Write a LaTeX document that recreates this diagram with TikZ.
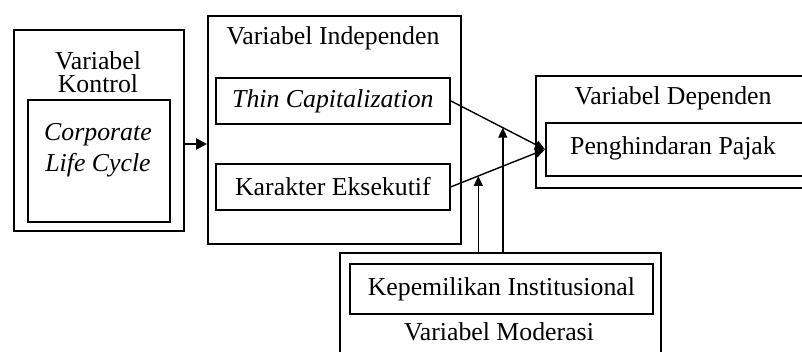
\documentclass[tikz,border=0pt]{standalone}
\usepackage{fontspec}
\setmainfont{Liberation Serif}
\usetikzlibrary{arrows.meta,calc}
\begin{document}
\begin{tikzpicture}[x=0.5pt,y=-0.5pt,
 box/.style={draw,line width=0.9pt,inner sep=0pt,anchor=north west},
 txt/.style={font=\fontsize{12.9}{15}\selectfont,inner sep=0pt},
 arr/.style={line width=0.7pt,-{Triangle[length=5pt,width=4.5pt]}}]
\useasboundingbox (0,0) rectangle (802,352);
% boxes
\node[box,minimum width=85pt,minimum height=100.5pt] (kout) at (12.7,29) {};
\node[box,minimum width=71pt,minimum height=61pt] (kin) at (27,99) {};
\node[box,minimum width=126.5pt,minimum height=114pt] (ind) at (207,15) {};
\node[box,minimum width=117pt,minimum height=23pt] (thin) at (215,77) {};
\node[box,minimum width=117pt,minimum height=23pt] (kar) at (215,163) {};
\node[box,minimum width=142.5pt,minimum height=56pt] (dep) at (535,75) {};
\node[box,minimum width=137.5pt,minimum height=26.5pt] (depin) at (545,122) {};
\node[box,minimum width=160.5pt,minimum height=60pt] (mod) at (339,252) {};
\node[box,minimum width=151.5pt,minimum height=25pt] (modin) at (349,263) {};
% texts
\node[txt] (t1) at (98,61) {Variabel};
\node[txt] (t2) at (98,84) {Kontrol};
\node[txt] (t3) at (98,135) {\itshape Corporate};
\node[txt] (t4) at (98,165) {\itshape Life Cycle};
\node[txt] (t5) at (333,38) {Variabel Independen};
\node[txt] (t6) at (thin.center) {\itshape Thin Capitalization};
\node[txt] (t7) at (kar.center) {Karakter Eksekutif};
\node[txt] (t8) at (673,98) {Variabel Dependen};
\node[txt] (t9) at (673,148) {Penghindaran Pajak};
\node[txt] (t10) at (modin.center) {Kepemilikan Institusional};
\node[txt] (t11) at (499,332) {Variabel Moderasi};
% connectors
\coordinate (ka) at (0,144);
\draw[line width=1.3pt,-{Triangle[length=5.5pt,width=5.5pt]}] (kout.east |- ka) -- (ind.west |- ka);
\draw[arr] (thin.east) -- (depin.west);
\draw[arr] (kar.east) -- (depin.west);
\coordinate (p1) at ($(kar.east)!0.292!(depin.west)$);
\coordinate (p2) at ($(thin.east)!0.552!(depin.west)$);
\draw[arr] (mod.north -| p1) -- (p1);
\draw[arr] (mod.north -| p2) -- (p2);
\end{tikzpicture}
\end{document}
